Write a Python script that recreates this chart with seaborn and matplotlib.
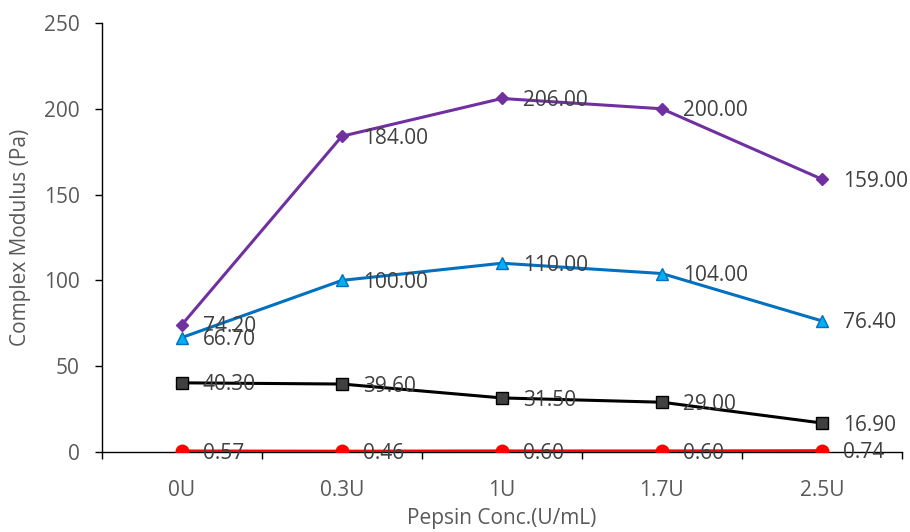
import matplotlib
matplotlib.use("Agg")
import matplotlib.pyplot as plt
import seaborn as sns
import pandas as pd

# Pepsin concentrations on the category axis
categories = ["0U", "0.3U", "1U", "1.7U", "2.5U"]

# Complex modulus (Pa) for each series
purple_vals = [74.20, 184.00, 206.00, 200.00, 159.00]
blue_vals = [66.70, 100.00, 110.00, 104.00, 76.40]
black_vals = [40.30, 39.60, 31.50, 29.00, 16.90]
red_vals = [0.57, 0.46, 0.60, 0.60, 0.74]

y_ticks = [0, 50, 100, 150, 200, 250]

sns.set_theme(style="white")
plt.rcParams["font.family"] = ["Open Sans", "DejaVu Sans"]

FS = 15
TICK_COLOR = "#595959"
LABEL_COLOR = "#404040"

fig = plt.figure(figsize=(9.10, 5.32), dpi=100)
ax = fig.add_axes([0.112, 0.1504, 0.879, 0.8064])

styles = [
    (purple_vals, dict(color="#7030A0", marker="D", markersize=6,
                       markerfacecolor="#7030A0", markeredgecolor="#7030A0")),
    (blue_vals, dict(color="#0070C0", marker="^", markersize=8,
                     markerfacecolor="#00B0F0", markeredgecolor="#0070C0")),
    (black_vals, dict(color="#000000", marker="s", markersize=8,
                      markerfacecolor="#404040", markeredgecolor="#000000")),
    (red_vals, dict(color="#FF0000", marker="o", markersize=9,
                    markerfacecolor="#FF0000", markeredgecolor="#FF0000")),
]

for vals, kw in styles:
    df = pd.DataFrame({"x": range(len(categories)), "y": vals})
    sns.lineplot(data=df, x="x", y="y", ax=ax, linewidth=2.2, sort=False,
                 markeredgewidth=1, zorder=3, **kw)
    for i, v in enumerate(vals):
        ax.annotate(f"{v:.2f}", xy=(i, v), xytext=(15, -1.5),
                    textcoords="offset points", ha="left", va="center",
                    fontsize=FS, color=LABEL_COLOR, zorder=5)

ax.set_xlim(-0.5, len(categories) - 0.5)
ax.set_ylim(0, 250)
ax.set_xticks(range(len(categories)))
ax.set_xticklabels(categories)
ax.set_xticks([i - 0.5 for i in range(len(categories) + 1)], minor=True)
ax.set_yticks(y_ticks)

for side in ("top", "right"):
    ax.spines[side].set_visible(False)
for side in ("left", "bottom"):
    ax.spines[side].set_color("black")
    ax.spines[side].set_linewidth(1.0)

ax.tick_params(axis="x", which="major", length=0, pad=20,
               labelsize=FS, labelcolor=TICK_COLOR)
ax.tick_params(axis="x", which="minor", length=5, width=1, color="black",
               direction="out", bottom=True)
ax.tick_params(axis="y", which="major", length=5, width=1, color="black",
               direction="out", left=True, pad=11, labelsize=FS,
               labelcolor=TICK_COLOR)

ax.set_xlabel("Pepsin Conc.(U/mL)", fontsize=FS, color=TICK_COLOR)
ax.set_ylabel("Complex Modulus (Pa)", fontsize=FS, color=TICK_COLOR)
ax.xaxis.set_label_coords(0.5, -0.13)
ax.yaxis.set_label_coords(-0.089, 0.5)
ax.grid(False)

fig.savefig("out.png", dpi=100)
